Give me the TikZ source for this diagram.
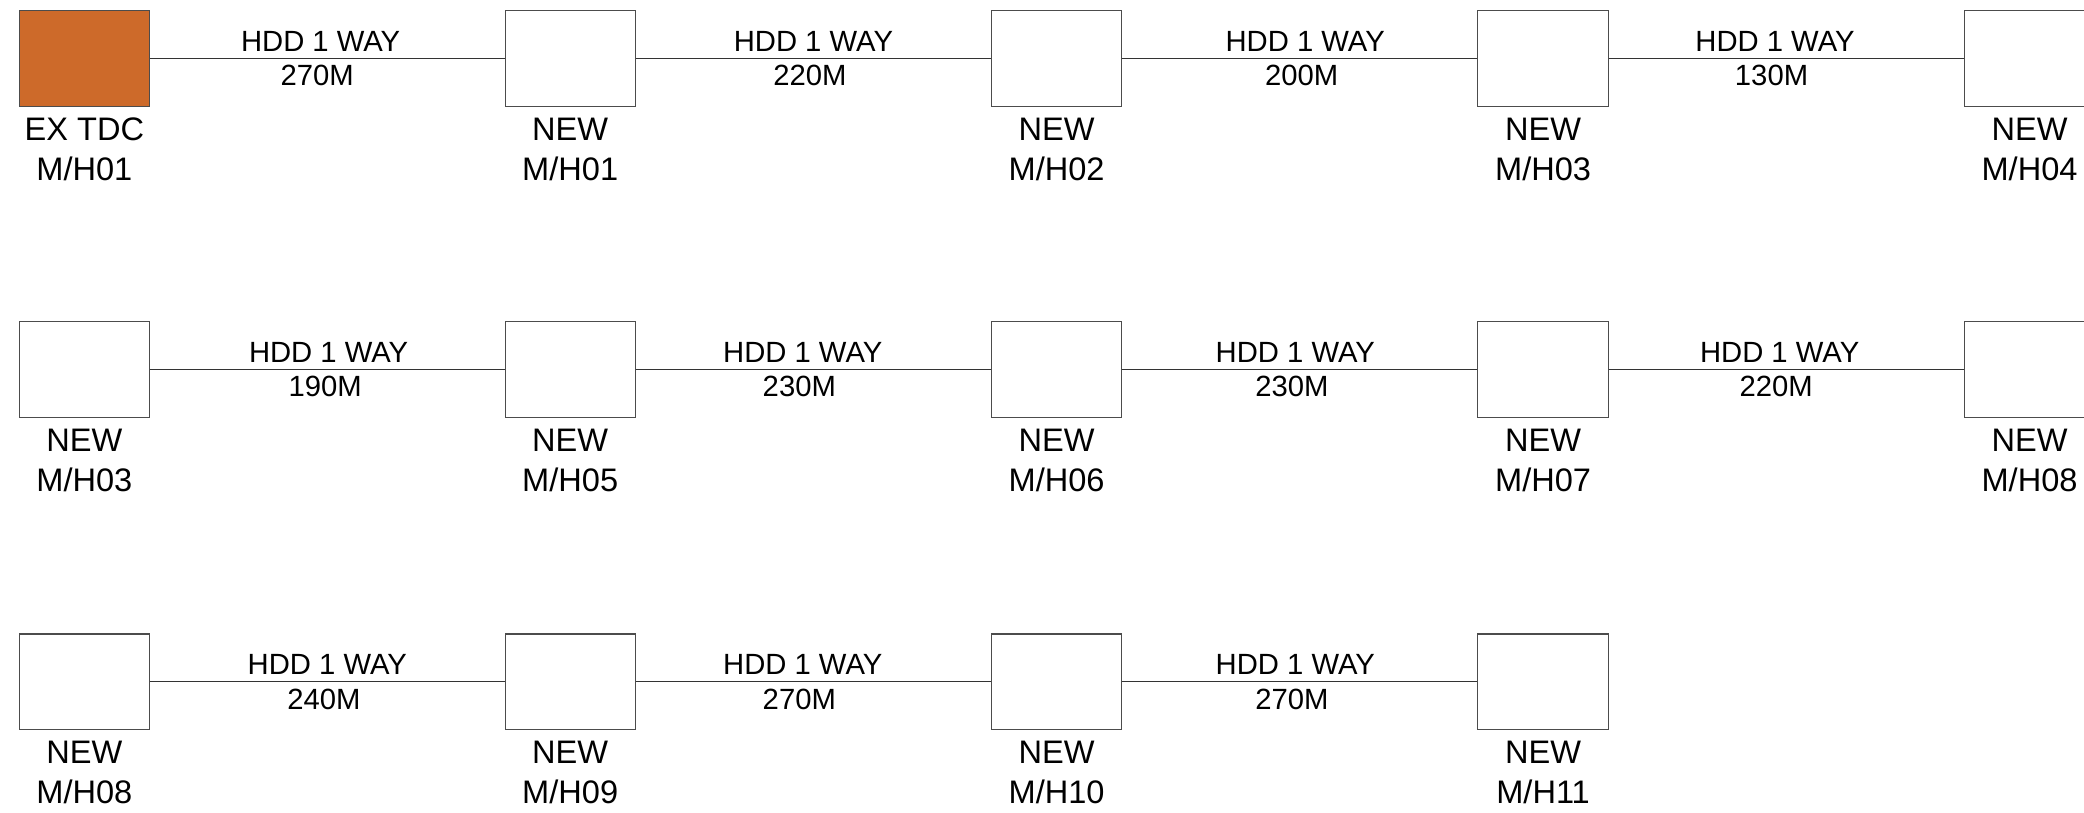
\documentclass[tikz,border=0pt]{standalone}
\usepackage{fontspec}
\setmainfont{Liberation Sans}
\usetikzlibrary{positioning}
\definecolor{tdcorange}{RGB}{205,106,42}
\newcommand{\numshift}{\kern5.2pt}
\begin{document}
\begin{tikzpicture}[x=1pt,y=-1pt,
  mh/.style={draw=black!70, line width=0.8pt, minimum width=98pt, minimum height=72pt, inner sep=0pt, fill=white},
  tdc/.style={mh, fill=tdcorange},
  boxlbl/.style={font=\fontsize{24.5}{30}\selectfont, align=center, inner sep=0pt},
  wire/.style={draw=black!80, line width=0.8pt},
  wlbl/.style={font=\fontsize{22}{26}\selectfont, align=center, inner sep=0pt},
]
\useasboundingbox (0,0) rectangle (1568,611);
\clip (0,0) rectangle (1568,611);
% row 1
\node[tdc] (a1) at (63.5,44) {};
\node[mh] (a2) at (429,44) {};
\node[mh] (a3) at (795,44) {};
\node[mh] (a4) at (1161,44) {};
\node[mh] (a5) at (1527,44) {};
\node[boxlbl, below=8pt of a1] (ta1) {EX TDC\\M/H01};
\node[boxlbl, below=8pt of a2] (ta2) {NEW\\M/H01};
\node[boxlbl, below=8pt of a3] (ta3) {NEW\\M/H02};
\node[boxlbl, below=8pt of a4] (ta4) {NEW\\M/H03};
\node[boxlbl, below=8pt of a5] (ta5) {NEW\\M/H04};
\draw[wire] (a1) -- node[wlbl, xshift=-5pt] (wa1) {HDD 1 WAY\\270M\numshift} (a2);
\draw[wire] (a2) -- node[wlbl, xshift=0pt] (wa2) {HDD 1 WAY\\220M\numshift} (a3);
\draw[wire] (a3) -- node[wlbl, xshift=4pt] (wa3) {HDD 1 WAY\\200M\numshift} (a4);
\draw[wire] (a4) -- node[wlbl, xshift=-8.5pt] (wa4) {HDD 1 WAY\\130M\numshift} (a5);
% row 2
\node[mh] (b1) at (63.5,278) {};
\node[mh] (b2) at (429,278) {};
\node[mh] (b3) at (795,278) {};
\node[mh] (b4) at (1161,278) {};
\node[mh] (b5) at (1527,278) {};
\node[boxlbl, below=8pt of b1] (tb1) {NEW\\M/H03};
\node[boxlbl, below=8pt of b2] (tb2) {NEW\\M/H05};
\node[boxlbl, below=8pt of b3] (tb3) {NEW\\M/H06};
\node[boxlbl, below=8pt of b4] (tb4) {NEW\\M/H07};
\node[boxlbl, below=8pt of b5] (tb5) {NEW\\M/H08};
\draw[wire] (b1) -- node[wlbl, xshift=1pt] (wb1) {HDD 1 WAY\\190M\numshift} (b2);
\draw[wire] (b2) -- node[wlbl, xshift=-8pt] (wb2) {HDD 1 WAY\\230M\numshift} (b3);
\draw[wire] (b3) -- node[wlbl, xshift=-3.4pt] (wb3) {HDD 1 WAY\\230M\numshift} (b4);
\draw[wire] (b4) -- node[wlbl, xshift=-5pt] (wb4) {HDD 1 WAY\\220M\numshift} (b5);
% row 3
\node[mh] (c1) at (63.5,513) {};
\node[mh] (c2) at (429,513) {};
\node[mh] (c3) at (795,513) {};
\node[mh] (c4) at (1161,513) {};
\node[boxlbl, below=8pt of c1] (tc1) {NEW\\M/H08};
\node[boxlbl, below=8pt of c2] (tc2) {NEW\\M/H09};
\node[boxlbl, below=8pt of c3] (tc3) {NEW\\M/H10};
\node[boxlbl, below=8pt of c4] (tc4) {NEW\\M/H11};
\draw[wire] (c1) -- node[wlbl, xshift=0pt] (wc1) {HDD 1 WAY\\240M\numshift} (c2);
\draw[wire] (c2) -- node[wlbl, xshift=-8pt] (wc2) {HDD 1 WAY\\270M\numshift} (c3);
\draw[wire] (c3) -- node[wlbl, xshift=-3.4pt] (wc3) {HDD 1 WAY\\270M\numshift} (c4);
\end{tikzpicture}
\end{document}
